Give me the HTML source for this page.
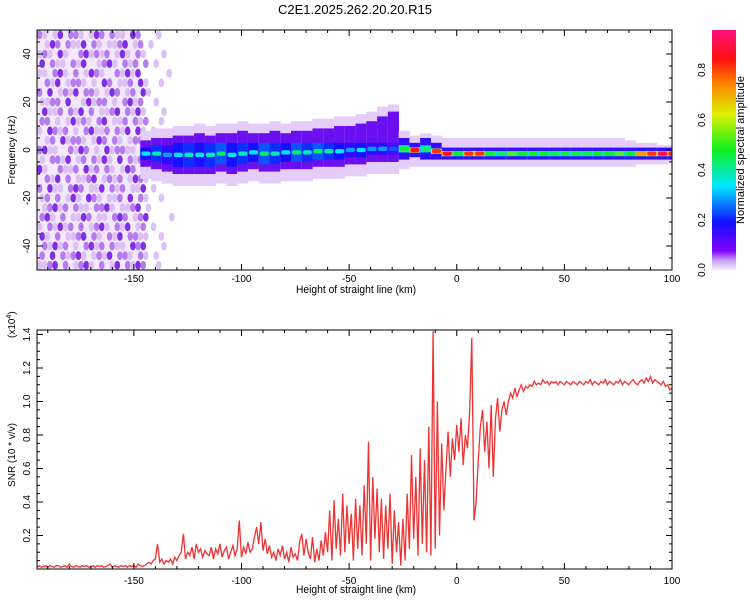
<!DOCTYPE html>
<html><head><meta charset="utf-8"><style>
html,body{margin:0;padding:0;background:#fff;}
svg{display:block;font-family:"Liberation Sans",sans-serif;}
</style></head><body>
<svg id="chart" width="750" height="600" viewBox="0 0 750 600">
<defs>
<linearGradient id="cbar" x1="0" y1="1" x2="0" y2="0">
<stop offset="0" stop-color="#f4ecfc"/><stop offset="0.04" stop-color="#c8a0f0"/>
<stop offset="0.08" stop-color="#8000ff"/><stop offset="0.2" stop-color="#1010ff"/>
<stop offset="0.35" stop-color="#00e8ff"/><stop offset="0.5" stop-color="#10f020"/>
<stop offset="0.65" stop-color="#e0f000"/><stop offset="0.78" stop-color="#ff8000"/>
<stop offset="0.88" stop-color="#ff1010"/><stop offset="1" stop-color="#ff1080"/>
</linearGradient>
<clipPath id="topclip"><rect x="37" y="30" width="635" height="240"/></clipPath>
<clipPath id="botclip"><rect x="37" y="330" width="635" height="239"/></clipPath>
</defs>
<text x="355" y="14" font-size="13" text-anchor="middle">C2E1.2025.262.20.20.R15</text>
<g id="heat" clip-path="url(#topclip)"></g>
<g id="snr" clip-path="url(#botclip)"></g>
<g id="axes"></g>
<rect x="712" y="30" width="24" height="240" fill="url(#cbar)"/>
<text transform="translate(744,150) rotate(-90)" font-size="11" text-anchor="middle">Normalized spectral amplitude</text>
<text transform="translate(15,150) rotate(-90)" font-size="10" text-anchor="middle">Frequency (Hz)</text>
<text x="356" y="293" font-size="11" text-anchor="middle" textLength="120" lengthAdjust="spacingAndGlyphs">Height of straight line (km)</text>
<text transform="translate(15,455) rotate(-90)" font-size="10" text-anchor="middle">SNR (10 * v/v)</text>
<text transform="translate(15,338) rotate(-90)" font-size="10" text-anchor="start">(x10<tspan dy="-4" font-size="7">4</tspan><tspan dy="4">)</tspan></text>
<text x="356" y="593" font-size="11" text-anchor="middle" textLength="120" lengthAdjust="spacingAndGlyphs">Height of straight line (km)</text>
</svg>
<script>
const xTicks = [-150,-100,-50,0,50,100];
const freqTicks = [-40,-20,0,20,40];
const snrTicks = [0.2,0.4,0.6,0.8,1.0,1.2,1.4];
const cbarTicks = [0.0,0.2,0.4,0.6,0.8];
// band data, 5 km bins starting at -147
const binStart = -147;
const coreLo = [-7,-8,-9,-10,-10,-10,-10,-9,-10,-9,-8,-9,-9,-8,-8,-8,-7,-7,-7,-6,-6,-5,-5,-5,-4,-3,-4,-4,-4,-4,-4,-4,-4,-4,-4,-4,-4,-4,-4,-4,-4,-4,-4,-4,-4,-4,-4,-4,-4,-4];
const coreHi = [4,5,5,6,6,7,6,7,7,8,7,7,8,7,8,8,9,9,10,10,11,12,14,16,5,3,5,3,1,1,1,1,1,1,1,1,1,1,1,1,1,1,1,1,1,1,1,1,1,1];
const haloLo = [-12,-13,-14,-15,-15,-15,-15,-14,-15,-14,-13,-14,-14,-13,-13,-13,-12,-12,-12,-11,-11,-10,-10,-10,-8,-7,-7,-7,-7,-7,-7,-7,-7,-7,-7,-7,-7,-7,-7,-7,-7,-7,-7,-7,-7,-7,-6,-6,-6,-5];
const haloHi = [8,9,9,10,10,11,10,11,11,12,11,11,12,11,12,12,13,13,14,14,15,16,18,19,8,6,7,6,5,5,5,5,5,5,5,5,5,5,5,5,5,5,5,5,5,4,3,3,2,2];
const peak = [0.35,0.4,0.3,0.35,0.4,0.35,0.4,0.45,0.35,0.4,0.35,0.45,0.4,0.35,0.45,0.4,0.45,0.4,0.35,0.3,0.35,0.3,0.3,0.25,0.5,0.9,0.45,0.85,0.9,0.5,0.85,0.85,0.5,0.45,0.55,0.5,0.5,0.5,0.48,0.48,0.48,0.48,0.5,0.5,0.55,0.5,0.75,0.85,0.95,0.95];
// speckle noise region -195..-130, 4 Hz rows from +50 down
const noiseStart = -195, noiseEnd = -130;
const noiseRows = [
"210130221013202110320001000","013202113021011230120100000","121031002312120131021000100",
"302110213001231021202010000","110231020132100213130000010","021301221010320112031001000",
"203012130221013201203100000","112203001312201023120010000","031120213020112302131000100",
"220101312102301120212001000","103212010231120213031010000","012031221013202101223000010",
"231100213201031221103100000","102213012021310302121010000","310021120312021013202001000",
"021302011230121201321000100","203110232011302120113010000","120201310321011203021001000",
"012312021102231011230100000","231020113201102320123000010","102131202012310213012010000",
"310201123021021302211001000","021312010231202110323000100","203021231012130221021010000",
"112302012310201302132001000"];
// SNR (x1e4) at 1 km steps from -195
const snrStart = -195;
const snrValues = [
.01,.02,.01,.015,.02,.01,.02,.015,.01,.02, .02,.01,.015,.02,.01,.03,.015,.01,.02,.015,
.01,.02,.015,.02,.01,.015,.02,.01,.02,.015, .02,.01,.015,.02,.03,.01,.02,.015,.01,.02,
.015,.02,.01,.02,.015,.02,.01,.03,.02,.015, .02,.03,.04,.03,.05,.06,.15,.04,.06,.03,
.05,.04,.06,.03,.07,.05,.08,.1,.21,.06, .1,.08,.13,.06,.15,.1,.12,.07,.11,.09,
.08,.13,.06,.12,.09,.15,.07,.11,.13,.06, .1,.14,.08,.12,.29,.07,.13,.09,.16,.1,
.12,.19,.25,.15,.28,.11,.18,.09,.14,.07, .1,.05,.12,.08,.14,.06,.1,.04,.13,.07,
.09,.05,.16,.21,.08,.18,.1,.06,.19,.04, .12,.05,.17,.08,.22,.1,.35,.05,.41,.12,
.3,.08,.45,.1,.38,.15,.33,.05,.42,.12, .38,.08,.5,.15,.76,.05,.55,.18,.48,.1,
.42,.06,.38,.12,.45,.03,.35,.1,.28,.02, .3,.05,.45,.12,.68,.18,.55,.08,.72,.15,
.65,.1,.85,.08,1.42,.12,1.0,.2,.75,.35, .6,.82,.55,.78,.65,.86,.7,.9,.62,.8,
.72,.95,1.38,.29,.4,.65,.85,.95,.7,.88, .6,.98,.55,.9,1.02,.82,.95,1.0,.92,1.0,
1.05,1.02,1.08,1.03,1.07,1.1,1.06,1.09,1.08,1.1, 1.09,1.12,1.1,1.11,1.1,1.13,1.11,1.12,1.1,1.12,
1.11,1.12,1.1,1.12,1.11,1.1,1.12,1.11,1.1,1.12, 1.11,1.1,1.12,1.11,1.1,1.12,1.11,1.13,1.1,1.12,
1.11,1.1,1.12,1.11,1.13,1.1,1.12,1.11,1.1,1.12, 1.11,1.13,1.1,1.12,1.11,1.1,1.12,1.13,1.11,1.1,
1.12,1.13,1.11,1.14,1.12,1.15,1.11,1.13,1.12,1.11, 1.1,1.12,1.09,1.1,1.07,1.08];

const NS = "http://www.w3.org/2000/svg";
const xs = v => 37 + (v + 195) * (635 / 295);
const ys = f => 150 - f * 2.4;
const yb = s => 569 - s * 167.5;
const yc = v => 270 - v * 250;
function mk(tag, attrs, parent) {
  const e = document.createElementNS(NS, tag);
  for (const k in attrs) e.setAttribute(k, attrs[k]);
  parent.appendChild(e);
  return e;
}
const cstops = [[0,'#f4ecfc'],[0.04,'#c8a0f0'],[0.08,'#8000ff'],[0.2,'#1010ff'],[0.35,'#00e8ff'],[0.5,'#10f020'],[0.65,'#e0f000'],[0.78,'#ff8000'],[0.88,'#ff1010'],[1,'#ff1080']];
function cmap(v) {
  for (let i = 1; i < cstops.length; i++) {
    if (v <= cstops[i][0]) {
      const [a, ca] = cstops[i-1], [b, cb] = cstops[i];
      const t = (v - a) / (b - a);
      const p = c => [1,3,5].map(j => parseInt(c.substr(j,2),16));
      const A = p(ca), B = p(cb);
      return 'rgb(' + A.map((x,k) => Math.round(x + (B[k]-x)*t)).join(',') + ')';
    }
  }
  return cstops[cstops.length-1][1];
}
const heat = document.getElementById('heat');
// noise background
const bg = mk('rect', {x: xs(noiseStart), y: 30, width: xs(-147) - xs(noiseStart), height: 240, fill: '#f3e9fc'}, heat);


// noise speckles
const ncols = noiseRows[0].length;
const cw = (noiseEnd - noiseStart) / ncols;
const ncol = ['', '#dcc0f6', '#b47cee', '#7f2ee6'];
noiseRows.forEach((row, r) => {
  for (let c = 0; c < row.length; c++) {
    const v = +row[c];
    if (!v) continue;
    const off = (r % 2) * 0.5;
    const el = mk('ellipse', {cx: xs(noiseStart + (c + 0.5 + off) * cw), cy: ys(48 - r*4), rx: 2.8, ry: 4.4, fill: ncol[v]}, heat);
    
    
  }
});
// band
for (let i = 0; i < peak.length; i++) {
  const x0 = xs(binStart + 5*i), w = xs(5) - xs(0) + 0.4;
  const h = mk('rect', {x: x0, y: ys(haloHi[i]), width: w, height: ys(haloLo[i]) - ys(haloHi[i]), fill: '#e4cdf8'}, heat);
  
  
  const c = mk('rect', {x: x0, y: ys(coreHi[i]), width: w, height: ys(coreLo[i]) - ys(coreHi[i]), fill: i < 24 ? '#6a10f0' : '#3010ff'}, heat);
  
  
  const mid = (coreLo[i] + Math.min(coreHi[i], 6)) / 2;
  const ih = Math.max(1.1, (Math.min(coreHi[i], 6) - coreLo[i]) / 2 - 3);
  const inn = mk('rect', {x: x0, y: ys(mid + ih), width: w, height: ys(mid - ih) - ys(mid + ih), fill: cmap(i < 24 ? peak[i] * 0.55 : peak[i] * 0.75)}, heat);
  
  
  const pk = mk('rect', {x: x0 + 1, y: ys(mid + 0.9), width: w - 2, height: 4.3, rx: 2, fill: cmap(peak[i])}, heat);
  
  
}
// SNR line
const snr = document.getElementById('snr');
const pts = snrValues.map((s, i) => xs(snrStart + i).toFixed(1) + ',' + yb(s).toFixed(1)).join(' ');
const line = mk('polyline', {points: pts, fill: 'none', stroke: '#ee3333', 'stroke-width': 1.3}, snr);


// axes
const axes = document.getElementById('axes');
function frame(y0, y1, name) {
  const r = mk('rect', {x: 37, y: y0, width: 635, height: y1 - y0, fill: 'none', stroke: '#000', 'stroke-width': 1}, axes);
  
  
}
frame(30, 270, 'top-plot-frame');
frame(330, 569, 'bottom-plot-frame');
function tick(x1, y1, x2, y2) { mk('line', {x1, y1, x2, y2, stroke: '#000', 'stroke-width': 1}, axes); }
for (let v = -190; v <= 100; v += 10) {
  const x = xs(v), L = v % 50 === 0 ? 6 : 3;
  tick(x, 270, x, 270 - L); tick(x, 30, x, 30 + L);
  tick(x, 569, x, 569 - L); tick(x, 330, x, 330 + L);
}
xTicks.forEach(v => {
  [282, 584].forEach((y, k) => {
    const t = mk('text', {x: xs(v), y: y, 'font-size': 10, 'text-anchor': 'middle'}, axes);
    t.textContent = v;
    
    
  });
});
for (let f = -50; f <= 50; f += 5) {
  const y = ys(f), L = f % 20 === 0 ? 6 : 3;
  tick(37, y, 37 + L, y); tick(672, y, 672 - L, y);
}
freqTicks.forEach(f => {
  const t = mk('text', {transform: `translate(30,${ys(f)}) rotate(-90)`, 'font-size': 10, 'text-anchor': 'middle'}, axes);
  t.textContent = f;
  
  
});
for (let s = 0.05; s <= 1.42; s += 0.05) {
  const y = yb(s), L = Math.abs(s*10 - Math.round(s*10)) < 0.01 && Math.round(s*10) % 2 === 0 ? 6 : 3;
  tick(37, y, 37 + L, y); tick(672, y, 672 - L, y);
}
snrTicks.forEach(s => {
  const t = mk('text', {transform: `translate(30,${yb(s)}) rotate(-90)`, 'font-size': 10, 'text-anchor': 'middle'}, axes);
  t.textContent = s.toFixed(1);
  
  
});
cbarTicks.forEach(v => {
  const t = mk('text', {transform: `translate(705,${yc(v)}) rotate(-90)`, 'font-size': 10, 'text-anchor': 'middle'}, axes);
  t.textContent = v.toFixed(1);
  
  
});
</script>
</body></html>
